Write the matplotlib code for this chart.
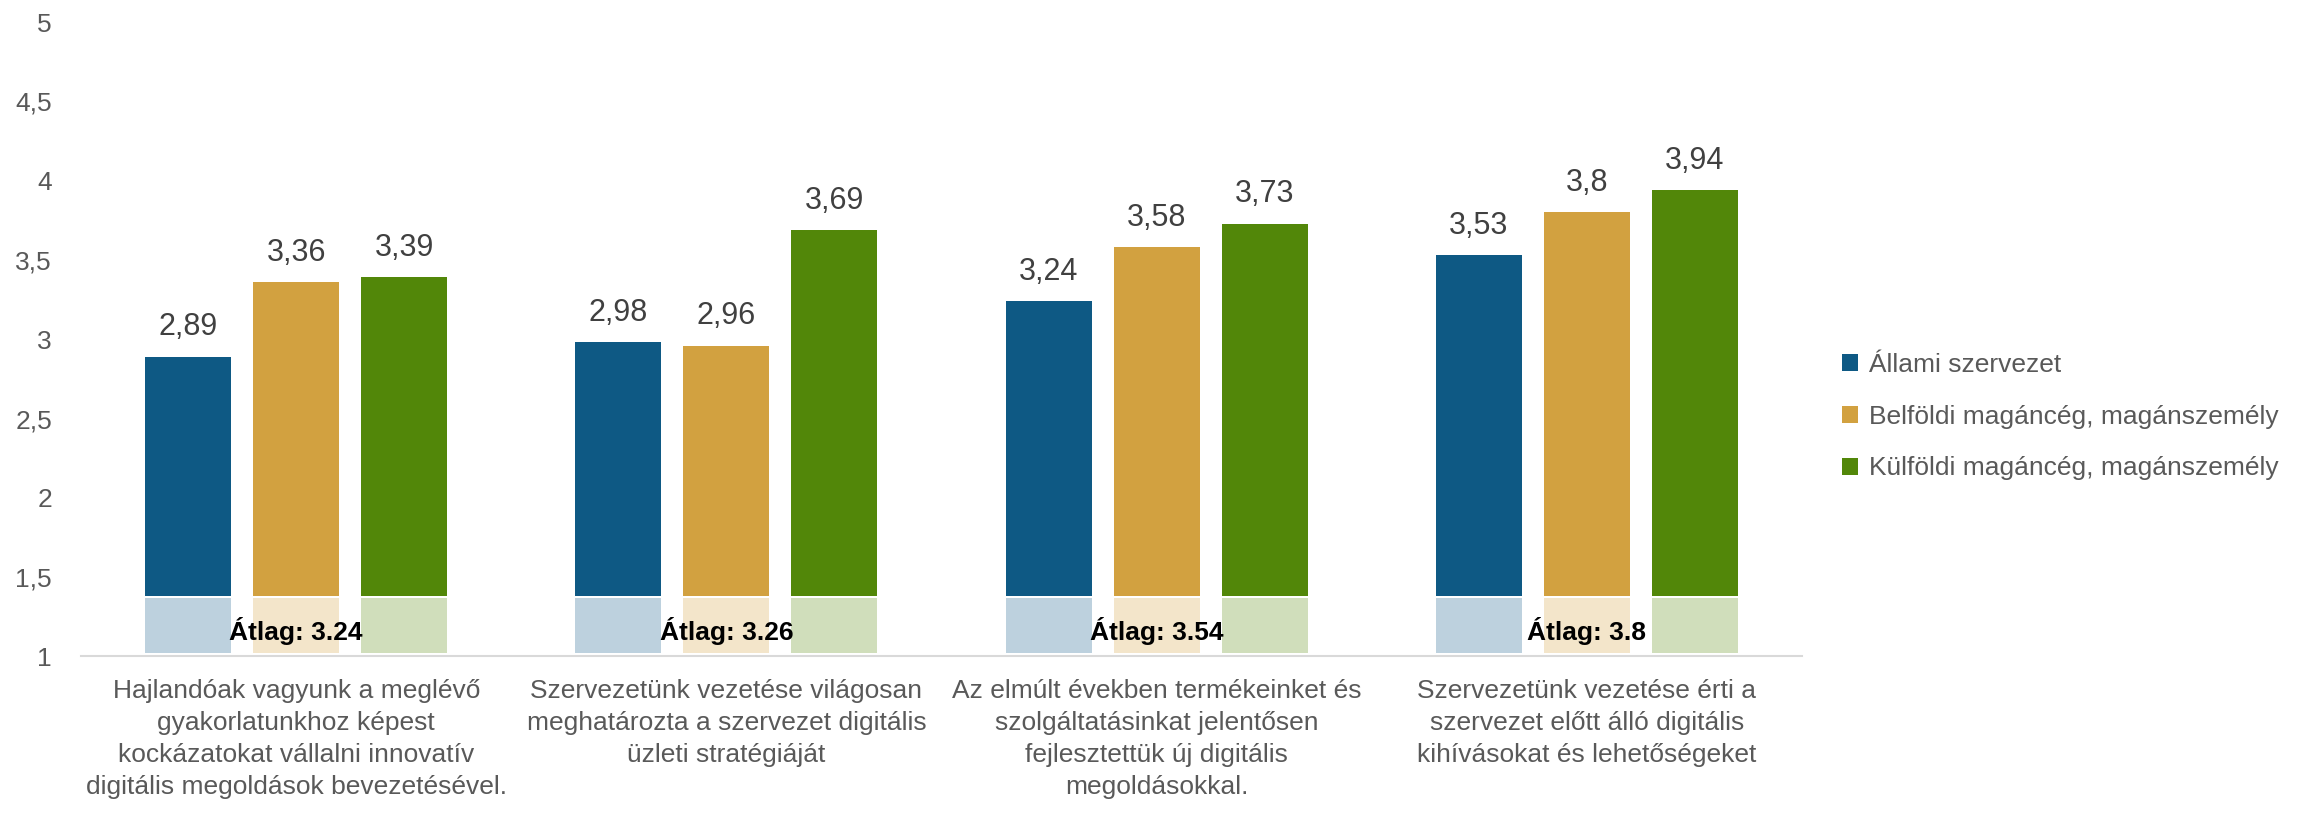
import matplotlib
matplotlib.use("Agg")
import matplotlib.pyplot as plt
import numpy as np
from matplotlib.patches import Patch
from matplotlib.ticker import FuncFormatter

plt.rcParams['font.family'] = ['Liberation Sans', 'DejaVu Sans']

categories = [
    "Hajlandóak vagyunk a meglévő\ngyakorlatunkhoz képest\nkockázatokat vállalni innovatív\ndigitális megoldások bevezetésével.",
    "Szervezetünk vezetése világosan\nmeghatározta a szervezet digitális\nüzleti stratégiáját",
    "Az elmúlt években termékeinket és\nszolgáltatásinkat jelentősen\nfejlesztettük új digitális\nmegoldásokkal.",
    "Szervezetünk vezetése érti a\nszervezet előtt álló digitális\nkihívásokat és lehetőségeket",
]
series_names = ["Állami szervezet", "Belföldi magáncég, magánszemély", "Külföldi magáncég, magánszemély"]
allami = [2.89, 2.98, 3.24, 3.53]
belfoldi = [3.36, 2.96, 3.58, 3.80]
kulfoldi = [3.39, 3.69, 3.73, 3.94]
atlag = [3.24, 3.26, 3.54, 3.8]
yticks = [1, 1.5, 2, 2.5, 3, 3.5, 4, 4.5, 5]

colors = ["#0E5984", "#D2A140", "#528709"]
light_colors = ["#BDD1DE", "#F3E5CA", "#D0DEBB"]

fig = plt.figure(figsize=(23.03, 8.22), dpi=100)
ax = fig.add_axes([0.0352, 0.2015, 0.7473, 0.7715])

x = np.arange(len(categories))
pitch = 0.251
width = 0.2
box_top = 1.365
bar_bottom = 1.38

for i, vals in enumerate([allami, belfoldi, kulfoldi]):
    xs = x + (i - 1) * pitch
    vals = np.array(vals)
    ax.bar(xs, vals - bar_bottom, width, bottom=bar_bottom, color=colors[i], linewidth=0)
    ax.bar(xs, box_top - 1.02, width, bottom=1.02, color=light_colors[i], linewidth=0)
    for xx, v in zip(xs, vals):
        ax.text(xx, v + 0.09, f"{v:g}".replace('.', ','), ha='center', va='bottom',
                fontsize=22, color='#404040')

for xx, a in zip(x, atlag):
    ax.text(xx, 1.16, f"Átlag: {a:g}", ha='center', va='center', fontsize=19,
            fontweight='bold', color='black')

ax.set_xlim(-0.5, len(categories) - 0.5)
ax.set_ylim(1, 5)
ax.set_yticks(yticks)
ax.yaxis.set_major_formatter(FuncFormatter(lambda v, p: f"{v:g}".replace('.', ',')))
ax.tick_params(axis='y', length=0, pad=21, labelsize=19, labelcolor='#595959')
ax.set_xticks(x)
ax.set_xticklabels(categories, fontsize=19, color='#595959', linespacing=1.42)
ax.tick_params(axis='x', length=0, pad=16)

for s in ['top', 'right', 'left']:
    ax.spines[s].set_visible(False)
ax.spines['bottom'].set_color('#D9D9D9')
ax.spines['bottom'].set_linewidth(1.5)

handles = [Patch(facecolor=c, edgecolor='none') for c in colors]
fig.legend(handles, series_names, loc='center left', bbox_to_anchor=(0.800, 0.493),
           frameon=False, fontsize=19, labelcolor='#595959', handlelength=0.6,
           handleheight=0.6, handletextpad=0.4, labelspacing=1.05, borderpad=0, borderaxespad=0)

fig.savefig("out.png", dpi=100)
